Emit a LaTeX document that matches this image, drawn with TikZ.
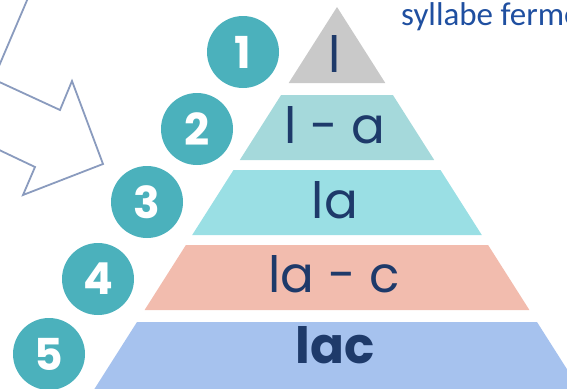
\documentclass[tikz,border=0pt]{standalone}
\usepackage{fontspec}
\newfontfamily\pop{Poppins}
\newfontfamily\carl{Carlito}
\definecolor{teal1}{HTML}{4BB1BC}
\definecolor{lay1}{HTML}{C9C9C9}
\definecolor{lay2}{HTML}{A5D9DB}
\definecolor{lay3}{HTML}{9ADFE4}
\definecolor{lay4}{HTML}{F2BCAE}
\definecolor{lay5}{HTML}{A6C2EE}
\definecolor{navy}{HTML}{1E3A6A}
\definecolor{wordblue}{HTML}{1F4FA0}
\definecolor{arrowc}{HTML}{8A9BBE}
\begin{document}
\begin{tikzpicture}[x=1pt,y=-1pt,
  numcircle/.style={circle,fill=teal1,minimum size=72pt,inner sep=0pt,text=white,font=\pop\bfseries\fontsize{44}{44}\selectfont},
  laytext/.style={anchor=base,text=navy,inner sep=0pt,font=\pop\fontsize{50}{50}\selectfont},
  outline/.style={draw=arrowc,line width=1.8pt,line join=miter}]
\useasboundingbox (0,0) rectangle (567,388);
\clip (0,0) rectangle (567,388);
% pyramid layers
\fill[lay1] (337,7) -- (288.7,83) -- (385.3,83) -- cycle;
\fill[lay2] (281.1,95) -- (392.9,95) -- (434.2,160) -- (239.8,160) -- cycle;
\fill[lay3] (233.5,170) -- (440.5,170) -- (481.8,235) -- (192.2,235) -- cycle;
\fill[lay4] (185.9,245) -- (488.1,245) -- (529.4,310) -- (144.6,310) -- cycle;
\fill[lay5] (137,322) -- (537,322) -- (583.4,395) -- (90.6,395) -- cycle;
% texts
\node[laytext] (t1) at (335,72) {l};
\node[laytext] (t2) at (335,143) {l - a};
\node[laytext] (t3) at (335,218) {la};
\node[laytext] (t4) at (334,292) {la - c};
\node[laytext,font=\pop\bfseries\fontsize{50}{50}\selectfont] (t5) at (335,363) {lac};
% number circles
\node[numcircle] (c1) at (243,52) {1};
\node[numcircle] (c2) at (197,129) {2};
\node[numcircle] (c3) at (147,202) {3};
\node[numcircle] (c4) at (98,279) {4};
\node[numcircle] (c5) at (49,354) {5};
% hollow arrow
\coordinate (a0) at (-5,80);
\coordinate (a1) at (60,110);
\coordinate (a2) at (72,81);
\coordinate (a3) at (103,164);
\coordinate (a4) at (23,195);
\coordinate (a5) at (35,167);
\coordinate (a6) at (-5,148);
\draw[outline] (a0) -- (a1) -- (a2) -- (a3) -- (a4) -- (a5) -- (a6);
\coordinate (b0) at (28,-2);
\coordinate (b1) at (-1,66);
\draw[outline] (b0) -- (b1);
% caption
\node[anchor=base west,inner sep=0pt,text=wordblue,font=\carl\fontsize{33}{33}\selectfont] (cap) at (401,25) {syllabe fermé};
\end{tikzpicture}
\end{document}
